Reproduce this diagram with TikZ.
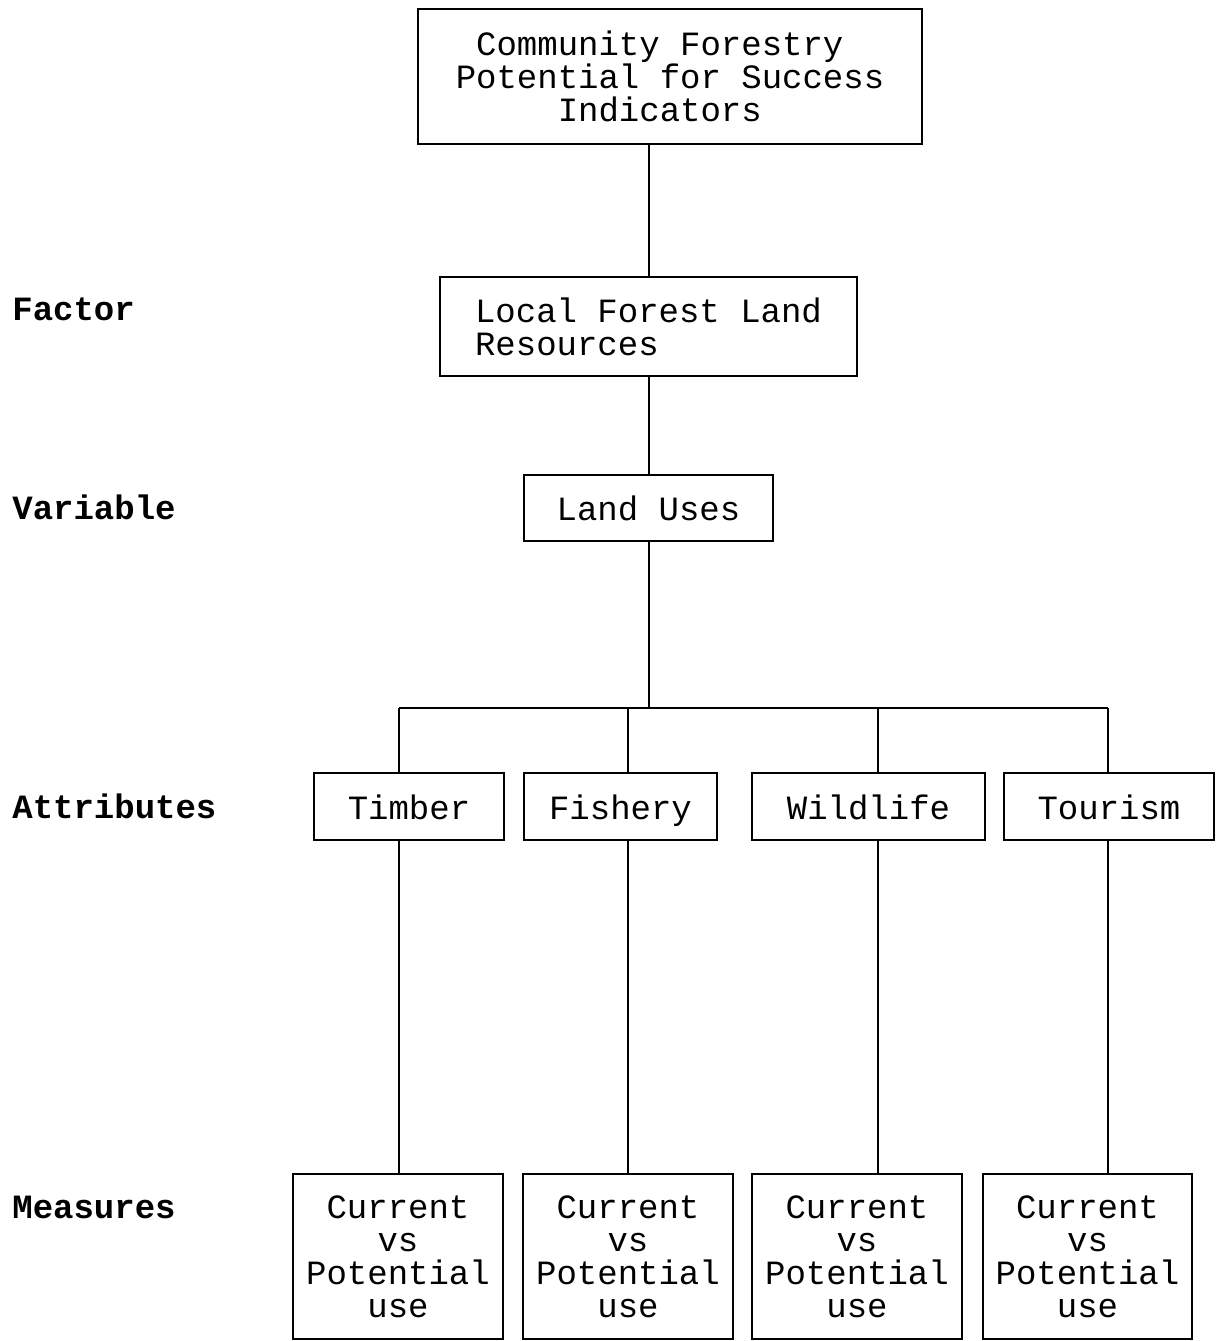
\documentclass[tikz,border=0pt]{standalone}
\usepackage{fontspec}
\setmonofont{Liberation Mono}
\usetikzlibrary{positioning}

\begin{document}
\begin{tikzpicture}
  [
    x=0.5pt, y=-0.5pt,
    Box/.style={rectangle, draw=black, line width=1pt, inner sep=0pt, align=center, font=\ttfamily\fontsize{17}{16.5}\selectfont},
    Single/.style={Box, text height=15.5pt, text depth=3pt},
    Level/.style={anchor=base west, inner sep=0pt, font=\ttfamily\bfseries\fontsize{17}{16.5}\selectfont},
    Wire/.style={draw, line width=1pt}
  ]
  \useasboundingbox (0,0) rectangle (1217,1341);
  % Nodes
  \node[Box, minimum width=252pt, minimum height=67.5pt] (goal) at (670, 76.5) {Community Forestry\kern10.2pt\\Potential for Success\\Indicators\kern10.2pt};
  \node[Box, align=left, minimum width=208.5pt, minimum height=49.5pt] (factor) at (648.5, 326.5) {Local Forest Land\\Resources};
  \node[Single, minimum width=124.5pt, minimum height=33pt] (landuses) at (648.5, 508) {Land Uses};
  \node[Single, minimum width=95pt, minimum height=33.5pt] (timber) at (409, 806.5) {Timber};
  \node[Single, minimum width=96.5pt, minimum height=33.5pt] (fishery) at (620.5, 806.5) {Fishery};
  \node[Single, minimum width=116.5pt, minimum height=33.5pt] (wildlife) at (868.5, 806.5) {Wildlife};
  \node[Single, minimum width=105pt, minimum height=33.5pt] (tourism) at (1109, 806.5) {Tourism};
  \node[Box, minimum width=105pt, minimum height=82.5pt] (timberuse) at (398, 1256.5) {Current\\vs\\Potential\\use};
  \node[Box, minimum width=105pt, minimum height=82.5pt] (fisheryuse) at (628, 1256.5) {Current\\vs\\Potential\\use};
  \node[Box, minimum width=105pt, minimum height=82.5pt] (wildlifeuse) at (857, 1256.5) {Current\\vs\\Potential\\use};
  \node[Box, minimum width=104.5pt, minimum height=82.5pt] (tourismuse) at (1087.5, 1256.5) {Current\\vs\\Potential\\use};
  % Levels
  \node[Level] (lfactor) at (12, 320) {Factor};
  \node[Level] (lvariable) at (12, 519) {Variable};
  \node[Level] (lattributes) at (12, 818) {Attributes};
  \node[Level] (lmeasures) at (12, 1218) {Measures};
  % Lines
  \coordinate (d1) at (399, 708);
  \coordinate (d2) at (628, 708);
  \coordinate (d3) at (878, 708);
  \coordinate (d4) at (1108, 708);
  \path [Wire] (factor.north) -- (factor.north |- goal.south);
  \path [Wire] (landuses.north) -- (landuses.north |- factor.south);
  \path [Wire] (landuses.south) -- (landuses.south |- d1);
  \path [Wire] (d1) -- (d4);
  \path [Wire] (d1) -- (d1 |- timber.north);
  \path [Wire] (d2) -- (d2 |- fishery.north);
  \path [Wire] (d3) -- (d3 |- wildlife.north);
  \path [Wire] (d4) -- (d4 |- tourism.north);
  \path [Wire] (timber.south -| d1) -- (d1 |- timberuse.north);
  \path [Wire] (fishery.south -| d2) -- (d2 |- fisheryuse.north);
  \path [Wire] (wildlife.south -| d3) -- (d3 |- wildlifeuse.north);
  \path [Wire] (tourism.south -| d4) -- (d4 |- tourismuse.north);
\end{tikzpicture}
\end{document}
